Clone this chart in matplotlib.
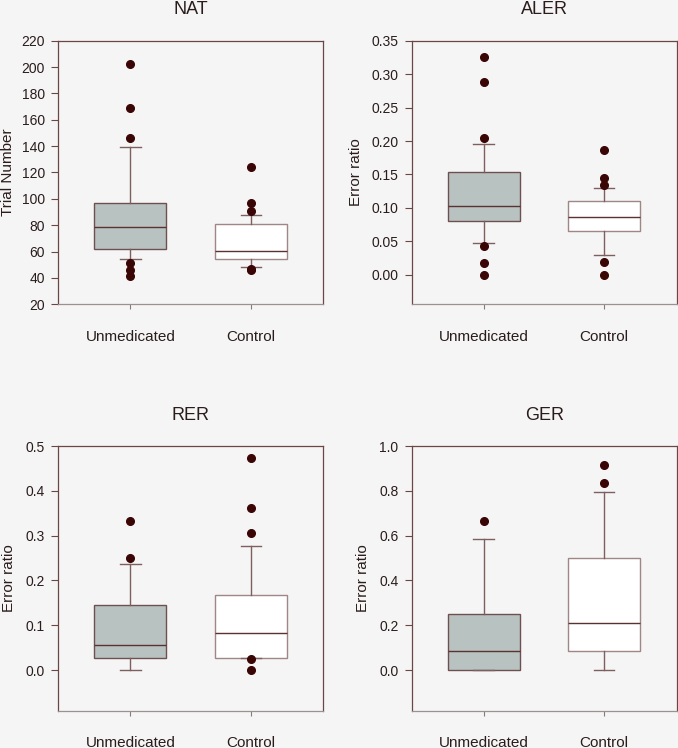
import matplotlib
matplotlib.use("Agg")
import matplotlib.pyplot as plt

plt.rcParams["font.family"] = ["Liberation Sans", "DejaVu Sans"]

groups = ["Unmedicated", "Control"]
titles = ["NAT", "ALER", "RER", "GER"]
ylabels = ["Trial Number", "Error ratio", "Error ratio", "Error ratio"]

# box summaries per panel: [q1, median, q3, whisker low, whisker high]
nat_unmed = [61.7, 78.3, 96.7, 54.4, 139.0]
nat_ctrl = [54.7, 60.3, 81.0, 48.6, 87.8]
nat_unmed_out = [202, 169, 146, 51.6, 46.1, 41.6]
nat_ctrl_out = [124, 96.9, 90.8, 46.4, 45.8]

aler_unmed = [0.080, 0.1025, 0.154, 0.0477, 0.196]
aler_ctrl = [0.065, 0.086, 0.1105, 0.0293, 0.130]
aler_unmed_out = [0.3256, 0.2877, 0.2046, 0.0437, 0.0173, 0.0]
aler_ctrl_out = [0.1862, 0.1443, 0.1349, 0.0198, 0.0]

rer_unmed = [0.0268, 0.0551, 0.1458, 0.0, 0.2359]
rer_ctrl = [0.0268, 0.0833, 0.1667, 0.0268, 0.2775]
rer_unmed_out = [0.3333, 0.25]
rer_ctrl_out = [0.4725, 0.3616, 0.305, 0.0256, 0.0]

ger_unmed = [0.0, 0.0833, 0.2485, 0.0, 0.5833]
ger_ctrl = [0.0833, 0.2083, 0.4985, 0.0, 0.793]
ger_unmed_out = [0.6667]
ger_ctrl_out = [0.9167, 0.8333]

panels = [
    (nat_unmed, nat_ctrl, nat_unmed_out, nat_ctrl_out, (20, 220), [20, 40, 60, 80, 100, 120, 140, 160, 180, 200, 220], "%d"),
    (aler_unmed, aler_ctrl, aler_unmed_out, aler_ctrl_out, (-0.044, 0.35), [0.0, 0.05, 0.10, 0.15, 0.20, 0.25, 0.30, 0.35], "%.2f"),
    (rer_unmed, rer_ctrl, rer_unmed_out, rer_ctrl_out, (-0.0908, 0.5), [0.0, 0.1, 0.2, 0.3, 0.4, 0.5], "%.1f"),
    (ger_unmed, ger_ctrl, ger_unmed_out, ger_ctrl_out, (-0.1816, 1.0), [0.0, 0.2, 0.4, 0.6, 0.8, 1.0], "%.1f"),
]

bg = "#f5f5f5"
brown = "#6b4646"
text_c = "#2b1c1c"

fig = plt.figure(figsize=(6.78, 7.48), dpi=100, facecolor=bg)
rects = [
    [0.086, 0.5932, 0.391, 0.3524],
    [0.6072, 0.5932, 0.391, 0.3524],
    [0.086, 0.0499, 0.391, 0.3538],
    [0.6072, 0.0499, 0.391, 0.3538],
]
label_x = [-0.165, -0.184, -0.16, -0.157]


def make_stats(s, out, name):
    return dict(q1=s[0], med=s[1], q3=s[2], whislo=s[3], whishi=s[4], fliers=out, label=name)


for i, (u, c, uo, co, ylim, yticks, fmt) in enumerate(panels):
    ax = fig.add_axes(rects[i], facecolor=bg)
    stats = [make_stats(u, uo, groups[0]), make_stats(c, co, groups[1])]
    bp = ax.bxp(stats, positions=[1, 2], widths=0.6, capwidths=0.17, patch_artist=True,
                showfliers=True,
                medianprops=dict(color="#5a3232", linewidth=1.0),
                whiskerprops=dict(color="#7d5f5f", linewidth=1.0),
                capprops=dict(color="#7d5f5f", linewidth=1.0),
                flierprops=dict(marker="o", markerfacecolor="#3a0505", markeredgecolor="#3a0505",
                                markersize=5.5, linestyle="none"))
    bp["boxes"][0].set_facecolor("#b8c3c1")
    bp["boxes"][0].set_edgecolor("#6e5050")
    bp["boxes"][1].set_facecolor("white")
    bp["boxes"][1].set_edgecolor("#a08686")
    for b in bp["boxes"]:
        b.set_linewidth(1.0)
    for f in bp["fliers"]:
        f.set_zorder(3)

    ax.set_xlim(0.402, 2.603)
    ax.set_ylim(*ylim)
    ax.set_yticks(yticks)
    ax.set_yticklabels([fmt % t for t in yticks])
    ax.set_xticks([1, 2])
    ax.set_xticklabels(groups, fontsize=11, color=text_c)
    ax.tick_params(axis="y", direction="out", length=5, width=0.8, color=brown,
                   labelsize=10, labelcolor=text_c, pad=4.5)
    ax.tick_params(axis="x", direction="out", length=3.5, width=0.8, color="#8a7a7a", pad=15)
    for side in ["left", "top", "right"]:
        ax.spines[side].set_color(brown)
        ax.spines[side].set_linewidth(0.9)
    ax.spines["bottom"].set_color("#9c9090")
    ax.spines["bottom"].set_linewidth(0.9)

    ax.set_title(titles[i], fontsize=13, color=text_c, pad=19)
    ax.set_ylabel(ylabels[i], fontsize=11, color=text_c)
    ax.yaxis.set_label_coords(label_x[i], 0.5)

fig.savefig("out.png", dpi=100, facecolor=bg)
